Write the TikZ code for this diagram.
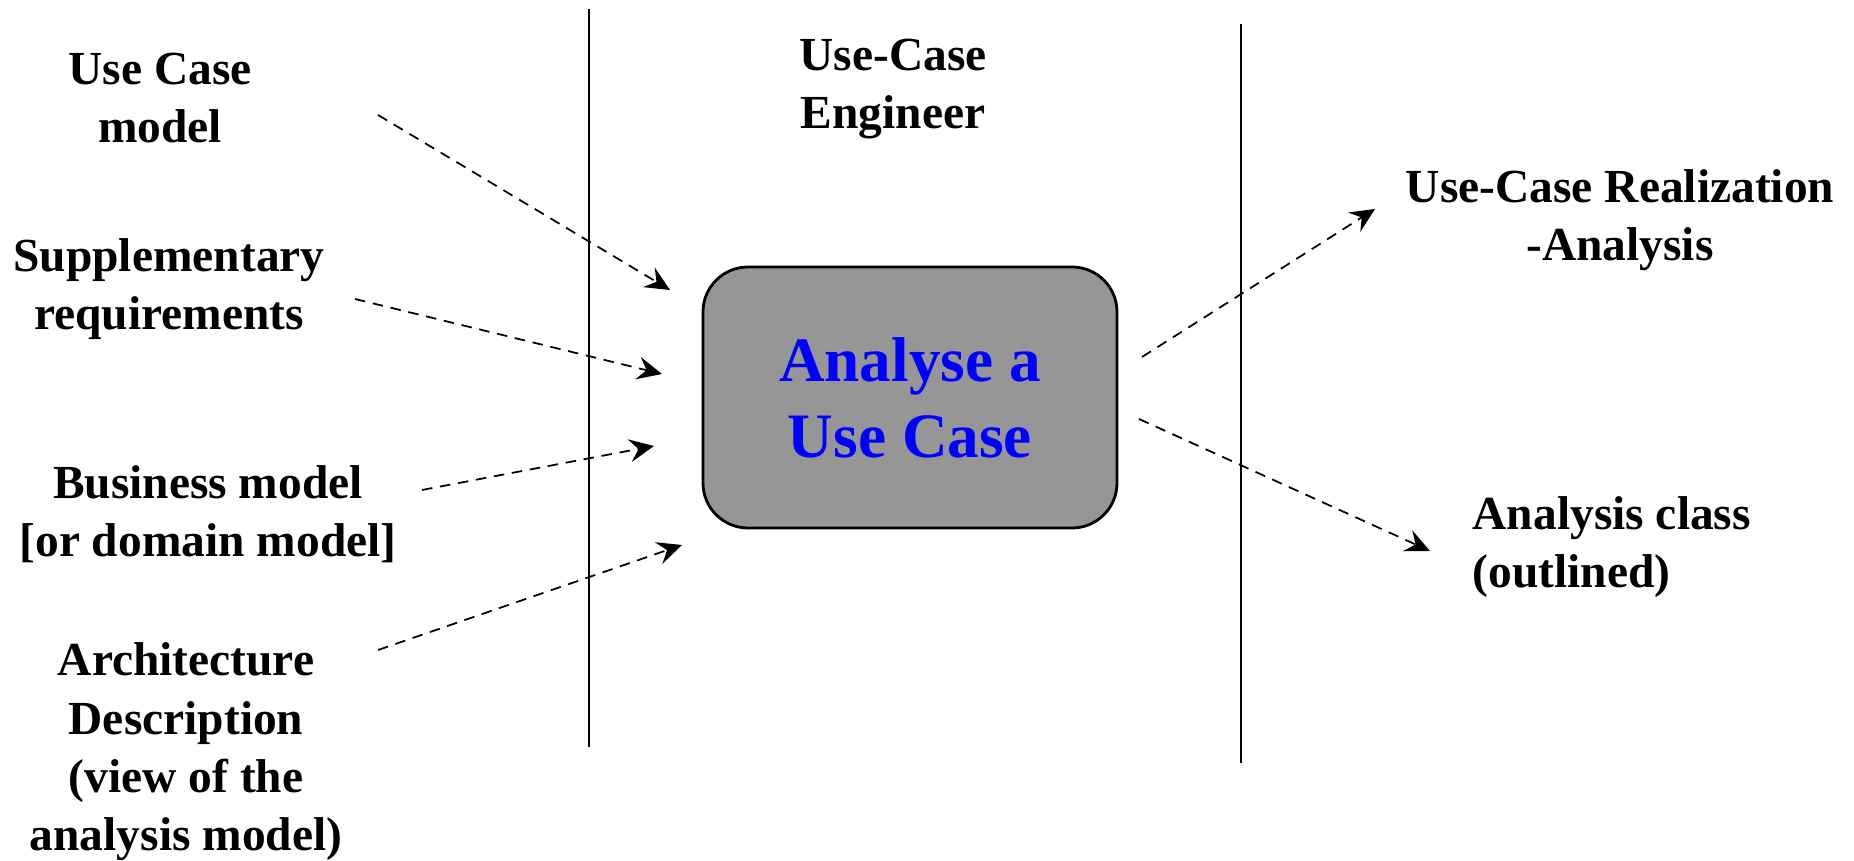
\documentclass[tikz,border=0pt]{standalone}
\usepackage{fontspec}
\setmainfont{Liberation Serif}
\usepackage{xcolor}
\usetikzlibrary{arrows.meta,calc,positioning}
\definecolor{boxgray}{RGB}{150,150,150}

\begin{document}
\begin{tikzpicture}[
    lbl/.style={font=\fontsize{13.5}{16.6}\selectfont\bfseries, align=center, inner sep=0pt},
    flow/.style={dash pattern=on 3pt off 2.2pt, line width=0.5pt, -{Stealth[length=7pt,width=6.5pt,inset=2.5pt]}},
    task/.style={draw, line width=0.8pt, fill=boxgray, rounded corners=0.45cm, minimum width=4.14cm, minimum height=2.61cm, align=center, text=blue, font=\fontsize{18}{21.6}\selectfont\bfseries}
  ]
  \useasboundingbox (0,0) rectangle (18.54,8.61);
  % Swimlane borders
  \draw[line width=0.6pt] (5.89,8.52) -- (5.89,1.14);
  \draw[line width=0.6pt] (12.41,8.37) -- (12.41,0.98);
  % Worker and activity
  \node[lbl] (eng) at (8.93,7.72) {Use-Case\\Engineer};
  \node[task] (act) at (9.10,4.635) {Analyse a\\ Use Case};
  % Input artifacts
  \node[lbl] (ucm) at (1.60,7.63) {Use Case\\model};
  \node[lbl] (supp) at (1.69,5.72) {Supplementary\\requirements};
  \node[lbl] (bus) at (2.08,3.47) {Business model\\{[}or domain model{]}};
  \node[lbl] (arch) at (1.86,1.09) {Architecture\\Description\\(view of the\\analysis model)};
  % Output artifacts
  \node[lbl] (ucr) at (16.20,6.41) {Use-Case Realization\\-Analysis};
  \node[lbl, align=left, anchor=west] (acl) at (14.72,3.14) {Analysis class\\(outlined)};
  % Arrow ends
  \coordinate (ucm-o) at (3.78,7.46);   \coordinate (act-i1) at (6.70,5.71);
  \coordinate (supp-o) at (3.55,5.62);  \coordinate (act-i2) at (6.62,4.87);
  \coordinate (bus-o) at (4.22,3.71);   \coordinate (act-i3) at (6.54,4.15);
  \coordinate (arch-o) at (3.78,2.11);  \coordinate (act-i4) at (6.82,3.16);
  \coordinate (act-o1) at (11.42,5.04); \coordinate (ucr-i) at (13.75,6.52);
  \coordinate (act-o2) at (11.39,4.42); \coordinate (acl-i) at (14.30,3.10);
  \draw[flow] (ucm-o) -- (act-i1);
  \draw[flow] (supp-o) -- (act-i2);
  \draw[flow] (bus-o) -- (act-i3);
  \draw[flow] (arch-o) -- (act-i4);
  \draw[flow] (act-o1) -- (ucr-i);
  \draw[flow] (act-o2) -- (acl-i);
\end{tikzpicture}
\end{document}
